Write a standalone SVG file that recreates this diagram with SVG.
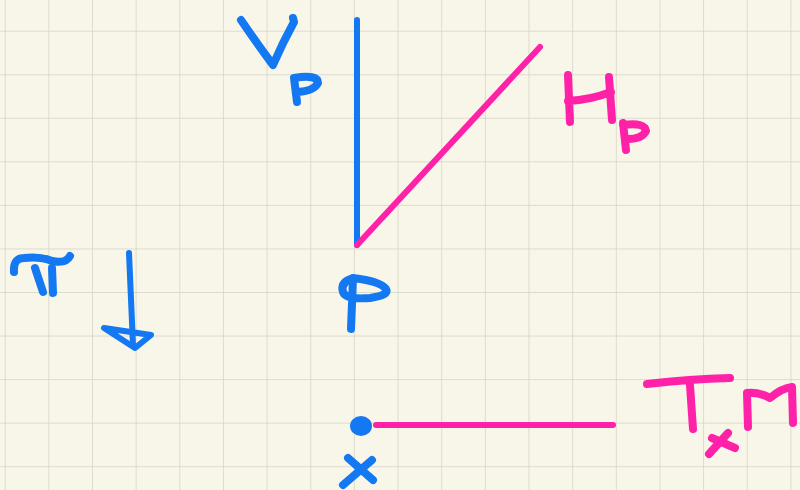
<svg xmlns="http://www.w3.org/2000/svg" width="800" height="490" viewBox="0 0 800 490">
<defs>
<style>
.grid{stroke:#d3d3c5;stroke-width:1.5;fill:none}
.b{stroke:#1378f2;fill:none;stroke-linecap:round;stroke-linejoin:round}
.p{stroke:#ff22a8;fill:none;stroke-linecap:round;stroke-linejoin:round}
.w6{stroke-width:6}
.w7{stroke-width:8}
</style>
<pattern id="g" x="4.7" y="30.7" width="43.65" height="43.55" patternUnits="userSpaceOnUse">
<path class="grid" d="M0 0V43.55M0 0H43.65"/>
</pattern>
</defs>
<rect width="800" height="490" fill="#f8f5e9"/>
<rect width="800" height="490" fill="url(#g)"/>
<g id="connectors">
<path id="Vline" class="b w6" d="M357 20 L357 245"/>
<path id="Hline" class="p w6" d="M357 245 L540 47"/>
<path id="Tline" class="p w6" d="M376 425 L613 425"/>
<g id="pi-arrow">
<path class="b w6" d="M129 253 L133 345"/>
<path class="b w6" d="M104 328 L151 335 L135 348 Z"/>
</g>
</g>
<g id="Vp">
<path class="b w7" d="M241 20 Q258 45 273 65 Q283 42 294 22 L293 18"/>
<path class="b w7" d="M294 78 L297 102 M294 78 Q318 74 318 83 Q314 91 298 92"/>
</g>
<g id="Hp">
<path class="p w7" d="M568 75 L570 122 M568 101 Q590 100 611 92 M609 77 L612 120"/>
<path class="p w7" d="M623 123 L626 150 M623 125 Q645 122 646 131 Q642 139 628 139"/>
</g>
<g id="pi">
<path class="b w7" d="M14 272 Q13 258 24 258 Q40 256 52 261 Q66 264 70 256"/>
<path class="b w7" d="M35 268 L43 292 M52 268 L53 293"/>
</g>
<g id="P">
<path class="b w7" d="M353 278 L351 329 M353 278 Q340 282 343 292 Q346 300 370 298 Q390 295 386 289 Q380 281 353 278"/>
</g>
<g id="x">
<ellipse cx="361" cy="426" rx="11" ry="10" fill="#1378f2"/>
<path class="b w7" d="M348 458 L373 480 M372 460 L343 485"/>
</g>
<g id="TxM">
<path class="p w7" d="M647 384 Q690 379 730 378 M690 385 L693 429"/>
<path class="p w7" d="M712 438 L735 448 M728 433 L709 454"/>
<path class="p w7" d="M748 427 L747 393 Q760 392 770 398 Q782 388 792 387 L793 423"/>
</g>
</svg>
